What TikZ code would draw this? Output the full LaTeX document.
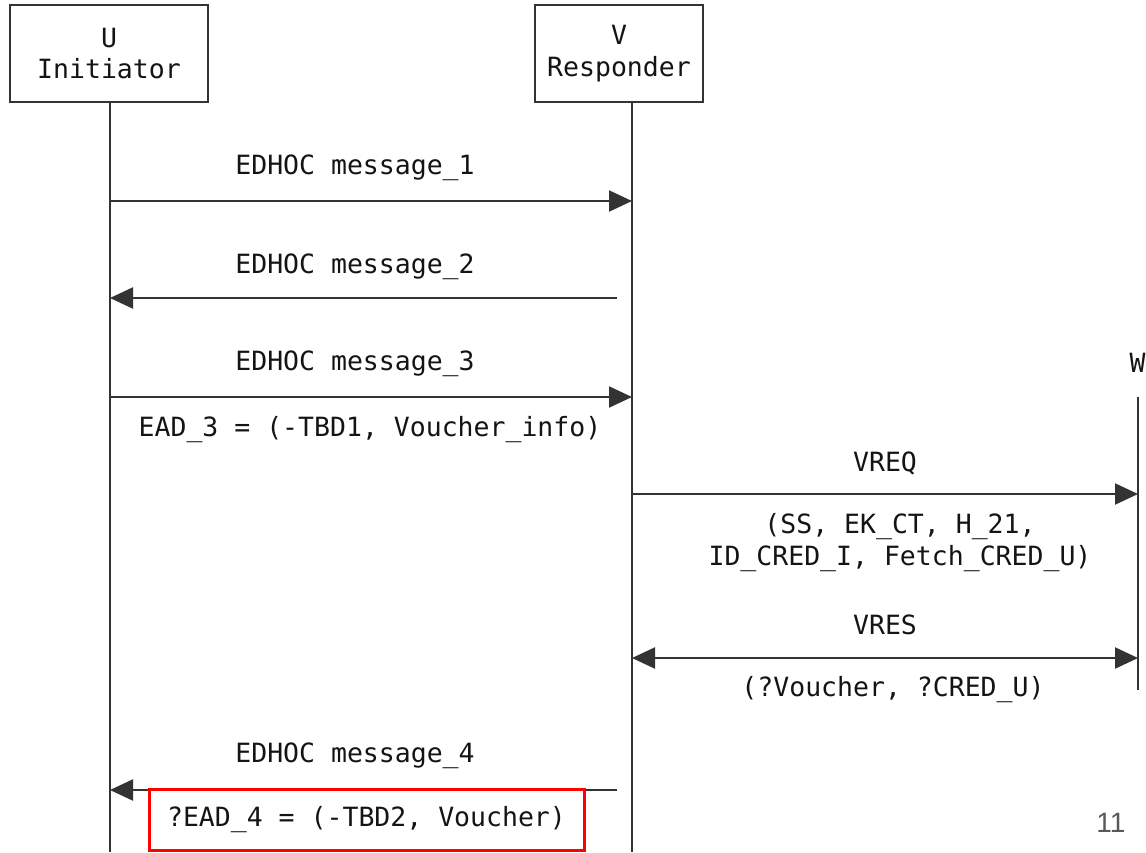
\documentclass[tikz,border=0pt]{standalone}
\usepackage{fontspec}
\setmonofont{DejaVu Sans Mono}
\newfontfamily\pagefont{Liberation Sans}
\usetikzlibrary{arrows.meta}
\newcommand{\msgfont}{\fontsize{26.5}{31.5}\selectfont\ttfamily}
\colorlet{linecol}{black!80}
\colorlet{textcol}{black!92}

\begin{document}
\begin{tikzpicture}[x=1pt,y=-1pt,
  actor/.style = {draw=linecol,line width=1.5pt,minimum height=97pt,align=center,font=\msgfont,text=textcol,inner sep=0pt},
  life/.style = {linecol,line width=1.5pt},
  msg/.style = {linecol,line width=2.2pt,-{Triangle[length=23pt,width=21pt]}},
  lbl/.style = {font=\msgfont,text=textcol,inner sep=0pt,align=center}]
\useasboundingbox (0,0) rectangle (1146,852);
% participants
\node[actor,minimum width=198pt] (u) at (109,53.5) {U\\Initiator};
\node[actor,minimum width=168pt] (v) at (619,53.5) {V\\Responder};
\node[lbl] (w) at (1137.5,363) {W};
% lifelines
\coordinate (utop) at (110,102);
\coordinate (ubot) at (110,852);
\coordinate (vtop) at (632,102);
\coordinate (vbot) at (632,852);
\coordinate (wtop) at (1138,397);
\coordinate (wbot) at (1138,690);
\draw[life] (utop) -- (ubot);
\draw[life] (vtop) -- (vbot);
\draw[life] (wtop) -- (wbot);
% message end points
\foreach \n/\y in {1/201,2/298,3/397,4/790} {
  \coordinate (u\n) at (110,\y);
  \coordinate (v\n) at (632,\y);
}
\foreach \n/\y in {5/494,6/658} {
  \coordinate (v\n) at (632,\y);
  \coordinate (w\n) at (1138,\y);
}
% U <-> V
\draw[msg] (u1) -- (v1);
\draw[msg,shorten <=15pt] (v2) -- (u2);
\draw[msg] (u3) -- (v3);
\draw[msg,shorten <=15pt] (v4) -- (u4);
\node[lbl] (m1) at (355,168) {EDHOC message\_1};
\node[lbl] (m2) at (355,267) {EDHOC message\_2};
\node[lbl] (m3) at (355,364) {EDHOC message\_3};
\node[lbl] (ead3) at (370,430) {EAD\_3 = (-TBD1, Voucher\_info)};
\node[lbl] (m4) at (355,756) {EDHOC message\_4};
\node[lbl,draw=red,line width=3pt,minimum width=435pt,minimum height=61pt] (ead4) at (366.5,819.5) {?EAD\_4 = (-TBD2, Voucher)};
% V <-> W
\draw[msg] (v5) -- (w5);
\draw[msg,{Triangle[length=23pt,width=21pt]}-{Triangle[length=23pt,width=21pt]}] (v6) -- (w6);
\node[lbl] (vreq) at (885,463) {VREQ};
\node[lbl] (vreqargs) at (900,542.5) {(SS, EK\_CT, H\_21,\\ID\_CRED\_I, Fetch\_CRED\_U)};
\node[lbl] (vres) at (885,625) {VRES};
\node[lbl] (vresargs) at (893,690) {(?Voucher, ?CRED\_U)};
% page number
\node[font=\pagefont\fontsize{28}{32}\selectfont,text=black!65,inner sep=0pt] (page) at (1111,823) {11};
\end{tikzpicture}
\end{document}
